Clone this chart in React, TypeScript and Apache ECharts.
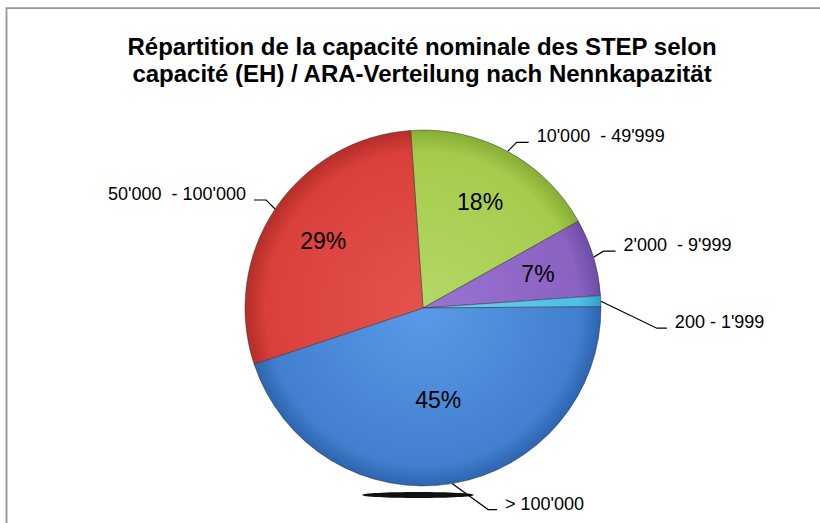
import { useEffect, useRef } from "react";
import * as echarts from "echarts";

// ---- data ----
const titleLines = [
  "Répartition de la capacité nominale des STEP selon",
  "capacité (EH) / ARA-Verteilung nach Nennkapazität",
];
const categories = [
  "10'000  - 49'999",
  "2'000  - 9'999",
  "200 - 1'999",
  "> 100'000",
  "50'000  - 100'000",
];
const shares = [18, 7, 1, 45, 29];
// where the percentage label sits: "far" ring, "near" ring, or hidden
const percentPlacement = ["far", "far", "none", "near", "far"];

// ---- styles ----
const sliceColors: [string, string, string][] = [
  ["#b3d866", "#a5cb4c", "#86ad34"],
  ["#9a74d2", "#8a62c2", "#6f4ca6"],
  ["#6ad2f0", "#4fbfe6", "#329fc8"],
  ["#5a9ae6", "#4280cf", "#2d64ae"],
  ["#e5534e", "#d9403b", "#b52d29"],
];
// elbow offset from the slice edge (dx, dy) and horizontal leader length
const leaderBends: [number, number, number][] = [
  [9, -9, 12],
  [10, -6, 12],
  [56, 27, 10],
  [36, 26, 9],
  [-9, -9, 12],
];
const CX = 423;
const CY = 308;
const R = 178;
const labelFont = "'Liberation Sans', Arial, sans-serif";
const pctFont = "'Liberation Sans', Arial, sans-serif";

export default function App() {
  const ref = useRef<HTMLDivElement>(null);
  useEffect(() => {
    if (!ref.current) return;
    const chart = echarts.init(ref.current, undefined, { renderer: "svg" });
    const data = categories.map((name, i) => ({
      name,
      value: shares[i],
      itemStyle: {
        color: {
          type: "radial",
          x: CX,
          y: CY,
          r: R,
          global: true,
          colorStops: [
            { offset: 0, color: sliceColors[i][0] },
            { offset: 0.88, color: sliceColors[i][1] },
            { offset: 1, color: sliceColors[i][2] },
          ],
        },
      },
    }));
    const overlay = (radius: number, ring: string) => ({
      type: "pie",
      center: [CX, CY],
      radius: [0, radius],
      startAngle: 94,
      clockwise: true,
      silent: true,
      z: 5,
      avoidLabelOverlap: false,
      emphasis: { disabled: true },
      itemStyle: { color: "rgba(0,0,0,0)", borderWidth: 0 },
      labelLine: { show: false },
      label: {
        show: true,
        position: "inside",
        fontFamily: pctFont,
        fontSize: 23,
        color: "#000",
        formatter: (p: any) => (percentPlacement[p.dataIndex] === ring ? `${p.value}%` : ""),
      },
      data: categories.map((name, i) => ({ name, value: shares[i] })),
    });
    chart.setOption({
      animation: false,
      backgroundColor: "#ffffff",
      graphic: [
        {
          type: "rect",
          shape: { x: 6.5, y: 8.2, width: 1200, height: 1000 },
          style: { fill: "none", stroke: "#959595", lineWidth: 1.8 },
          silent: true,
        },
        {
          type: "ellipse",
          shape: { cx: 418, cy: 495, rx: 56, ry: 3 },
          style: { fill: "#111" },
          silent: true,
        },
        ...titleLines.map((t, i) => ({
          type: "text",
          x: 422,
          y: 46 + i * 27,
          style: {
            text: t,
            align: "center",
            verticalAlign: "middle",
            fill: "#000",
            font: `bold 24px ${labelFont}`,
          },
          silent: true,
        })),
      ],
      series: [
        {
          type: "pie",
          center: [CX, CY],
          radius: [0, R],
          startAngle: 94,
          clockwise: true,
          avoidLabelOverlap: false,
          emphasis: { disabled: true },
          itemStyle: { borderColor: "rgba(40,40,40,0.45)", borderWidth: 1 },
          label: {
            show: true,
            position: "outside",
            fontFamily: labelFont,
            fontSize: 18,
            color: "#000",
            formatter: "{b}",
          },
          labelLine: {
            show: true,
            length: 10,
            length2: 12,
            smooth: false,
            lineStyle: { color: "#000", width: 1.2 },
          },
          labelLayout: (params: any) => {
            const pts = params.labelLinePoints;
            if (!pts || !pts.length) return {};
            const [bx, by, len2] = leaderBends[params.dataIndex];
            const p0 = pts[0];
            const elbow = [p0[0] + bx, p0[1] + by];
            const dir = bx >= 0 ? 1 : -1;
            const end = [elbow[0] + dir * len2, elbow[1]];
            return {
              x: end[0] + dir * 8,
              y: elbow[1] - 6,
              labelLinePoints: [p0, elbow, end],
            };
          },
          data,
        },
        overlay(234, "far"),
        overlay(180, "near"),
      ],
    });
    return () => chart.dispose();
  }, []);
  return (
    <div
      ref={ref}
      style={{ position: "fixed", left: 0, top: 0, width: 820, height: 523 }}
    />
  );
}
